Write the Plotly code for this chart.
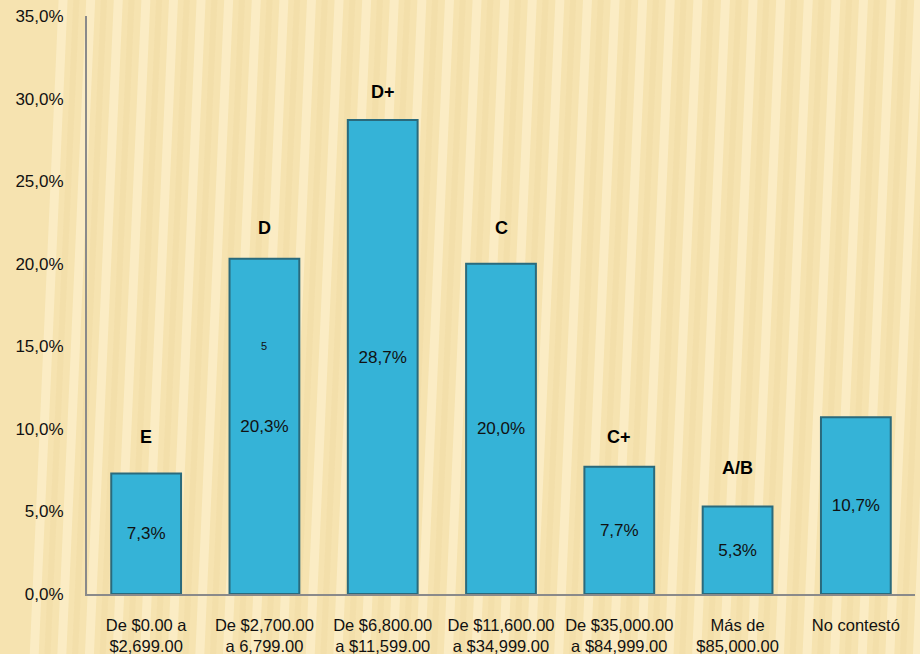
import plotly.graph_objects as go

categories = ["De $0.00 a<br>$2,699.00", "De $2,700.00<br>a 6,799.00", "De $6,800.00<br>a $11,599.00",
              "De $11,600.00<br>a $34,999.00", "De $35,000.00<br>a $84,999.00", "Más de<br>$85,000.00",
              "No contestó"]
values = [7.3, 20.3, 28.7, 20.0, 7.7, 5.3, 10.7]
value_labels = ["7,3%", "20,3%", "28,7%", "20,0%", "7,7%", "5,3%", "10,7%"]
levels = ["E", "D", "D+", "C", "C+", "A/B", ""]
level_shift = [36, 31, 28, 36, 30, 38, 0]  # pixel offsets above bars (style)

FONT = "Liberation Sans, Arial"

fig = go.Figure()
fig.add_trace(go.Bar(
    x=categories, y=values, text=value_labels, textposition="inside",
    insidetextanchor="middle", textangle=0,
    textfont=dict(family=FONT, size=17, color="#111"),
    marker=dict(color="#35B3D7", line=dict(color="#2A6A7C", width=2)),
    width=0.59, hoverinfo="skip",
))

for c, v, lv, sh in zip(categories, values, levels, level_shift):
    if lv:
        fig.add_annotation(x=c, y=v, text="<b>%s</b>" % lv, showarrow=False, yshift=sh,
                           font=dict(family=FONT, size=18, color="#000"))
fig.add_annotation(x=categories[1], y=15.0, text="5", showarrow=False,
                   font=dict(family=FONT, size=11, color="#111"))

# subtle diagonal stripes in background
shapes = []
n = 34
for i in range(-2, n):
    x0 = i / (n - 4)
    shapes.append(dict(type="line", xref="paper", yref="paper", x0=x0, x1=x0 + 0.04, y0=-0.2, y1=1.1,
                       line=dict(color="rgba(255,245,215,0.5)", width=9), layer="below"))
    shapes.append(dict(type="line", xref="paper", yref="paper", x0=x0 + 0.016, x1=x0 + 0.056, y0=-0.2, y1=1.1,
                       line=dict(color="rgba(225,200,140,0.15)", width=6), layer="below"))

fig.update_layout(
    width=920, height=654,
    margin=dict(l=87, r=5, t=16, b=60),
    paper_bgcolor="#F6E3B0", plot_bgcolor="rgba(0,0,0,0)",
    separators=", ",
    showlegend=False,
    bargap=0.41,
    shapes=shapes,
    font=dict(family=FONT, color="#111"),
)
fig.update_yaxes(range=[0, 35], dtick=5, tickformat=".1f", ticksuffix="%", showgrid=False,
                 zeroline=False, showline=True, linecolor="#8A8A8A", linewidth=2,
                 ticks="outside", ticklen=18, tickcolor="rgba(0,0,0,0)",
                 tickfont=dict(size=17, color="#111"), automargin=False)
fig.update_xaxes(showline=True, linecolor="#8A8A8A", linewidth=2, showgrid=False,
                 tickfont=dict(size=16.5, color="#111"), ticks="outside", ticklen=15,
                 tickcolor="rgba(0,0,0,0)", automargin=False)

fig.write_html("out.html")
